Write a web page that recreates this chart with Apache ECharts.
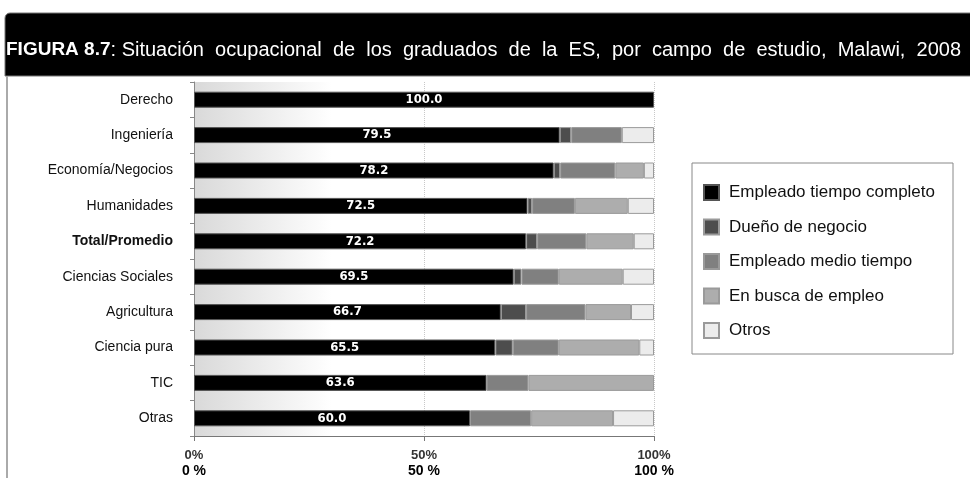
<!DOCTYPE html>
<html>
<head>
<meta charset="utf-8">
<script src="https://cdn.jsdelivr.net/npm/echarts@6/dist/echarts.min.js"></script>
<style>
  html, body { margin: 0; padding: 0; background: #fff; }
  #chart { width: 970px; height: 478px; }
</style>
</head>
<body>
<div id="chart"></div>
<script>
const categories = ['Derecho', 'Ingeniería', 'Economía/Negocios', 'Humanidades', 'Total/Promedio',
  'Ciencias Sociales', 'Agricultura', 'Ciencia pura', 'TIC', 'Otras']
const empleadoCompleto = [100.0, 79.5, 78.2, 72.5, 72.2, 69.5, 66.7, 65.5, 63.6, 60.0]
const duenoNegocio = [0, 2.5, 1.4, 1.0, 2.4, 1.7, 5.5, 3.8, 0, 0]
const empleadoMedio = [0, 11.0, 12.0, 9.3, 10.7, 8.1, 12.9, 10.0, 9.1, 13.3]
const enBusca = [0, 0, 6.2, 11.5, 10.3, 13.9, 9.9, 17.5, 27.3, 17.8]
const otros = [0, 7.0, 2.2, 5.7, 4.4, 6.8, 5.0, 3.2, 0, 8.9]
const xTicks = [0, 50, 100]

const font = '"Liberation Sans", Arial, sans-serif'
const myChart = echarts.init(document.getElementById('chart'))

function seg(name, values, color, extra) {
  return Object.assign({
    name: name,
    type: 'bar',
    stack: 'total',
    barWidth: 16,
    data: values.map(v => (v === 0 ? '-' : v)),
    itemStyle: {color: color, borderColor: '#9a9a9a', borderWidth: 1}
  }, extra || {})
}

// the printed title is set with wide word spacing
const titleRest = ': Situación  ocupacional  de  los  graduados  de  la  ES,  por  campo  de  estudio,  Malawi,  2008'

let option = {
  animation: false,
  textStyle: {fontFamily: font},
  title: {
    text: '{b|FIGURA 8.7}{n|' + titleRest + '}',
    left: 6,
    top: 40,
    padding: 0,
    textStyle: {
      rich: {
        b: {fontFamily: font, fontWeight: 'bold', fontSize: 19, color: '#fff'},
        n: {fontFamily: font, fontWeight: 'normal', fontSize: 20, color: '#fff'}
      }
    }
  },
  graphic: [
    {
      type: 'rect', z: -1,
      shape: {x: 5, y: 13, width: 980, height: 63, r: [5, 0, 0, 0]},
      style: {fill: '#000', stroke: '#777', lineWidth: 1}
    },
    {
      type: 'line',
      shape: {x1: 7, y1: 76, x2: 7, y2: 478},
      style: {stroke: '#aaa', lineWidth: 2}
    }
  ],
  legend: {
    orient: 'vertical',
    left: 692,
    top: 163,
    padding: [21, 18, 15, 11],
    itemWidth: 15,
    itemHeight: 15,
    itemGap: 17.5,
    borderColor: '#888',
    borderWidth: 1,
    icon: 'rect',
    textStyle: {fontFamily: font, fontSize: 17, color: '#111', padding: [0, 0, 0, 5]}
  },
  grid: {
    left: 194,
    right: 316,
    top: 82,
    bottom: 41,
    show: true,
    borderWidth: 0,
    backgroundColor: new echarts.graphic.LinearGradient(0, 0, 1, 0, [
      {offset: 0, color: '#d9d9d9'},
      {offset: 0.3, color: '#ffffff'},
      {offset: 1, color: '#ffffff'}
    ])
  },
  xAxis: {
    type: 'value',
    min: 0,
    max: 100,
    interval: 50,
    axisLine: {show: true, lineStyle: {color: '#777'}},
    axisTick: {show: true, length: 5, lineStyle: {color: '#777'}},
    splitLine: {show: true, lineStyle: {type: 'dotted', color: '#c8c8c8'}},
    axisLabel: {
      margin: 11,
      formatter: function (v) {
        if (xTicks.indexOf(v) < 0) return ''
        return '{a|' + v + '%}\n{b|' + v + ' %}'
      },
      rich: {
        a: {fontFamily: font, fontWeight: 'bold', fontSize: 13, color: '#333', lineHeight: 16},
        b: {fontFamily: font, fontWeight: 'bold', fontSize: 14, color: '#000', lineHeight: 16}
      }
    }
  },
  yAxis: {
    type: 'category',
    inverse: true,
    data: categories,
    axisLine: {show: true, lineStyle: {color: '#888'}},
    axisTick: {show: true, length: 4, lineStyle: {color: '#888'}},
    axisLabel: {
      margin: 21,
      fontFamily: font,
      fontSize: 14,
      color: '#111',
      formatter: function (v) {
        return v === 'Total/Promedio' ? '{t|' + v + '}' : v
      },
      rich: {
        t: {fontFamily: font, fontSize: 14, fontWeight: 'bold', color: '#111'}
      }
    }
  },
  series: [
    seg('Empleado tiempo completo', empleadoCompleto, '#000', {
      itemStyle: {color: '#000', borderColor: '#555', borderWidth: 1},
      label: {
        show: true,
        position: 'inside',
        color: '#fff',
        fontFamily: '"DejaVu Sans Condensed", "Liberation Sans Narrow", sans-serif',
        fontWeight: 'bold',
        fontSize: 13,
        formatter: p => p.value.toFixed(1)
      }
    }),
    seg('Dueño de negocio', duenoNegocio, '#4d4d4d'),
    seg('Empleado medio tiempo', empleadoMedio, '#808080'),
    seg('En busca de empleo', enBusca, '#adadad'),
    seg('Otros', otros, '#ececec')
  ]
}
myChart.setOption(option)
</script>
</body>
</html>
